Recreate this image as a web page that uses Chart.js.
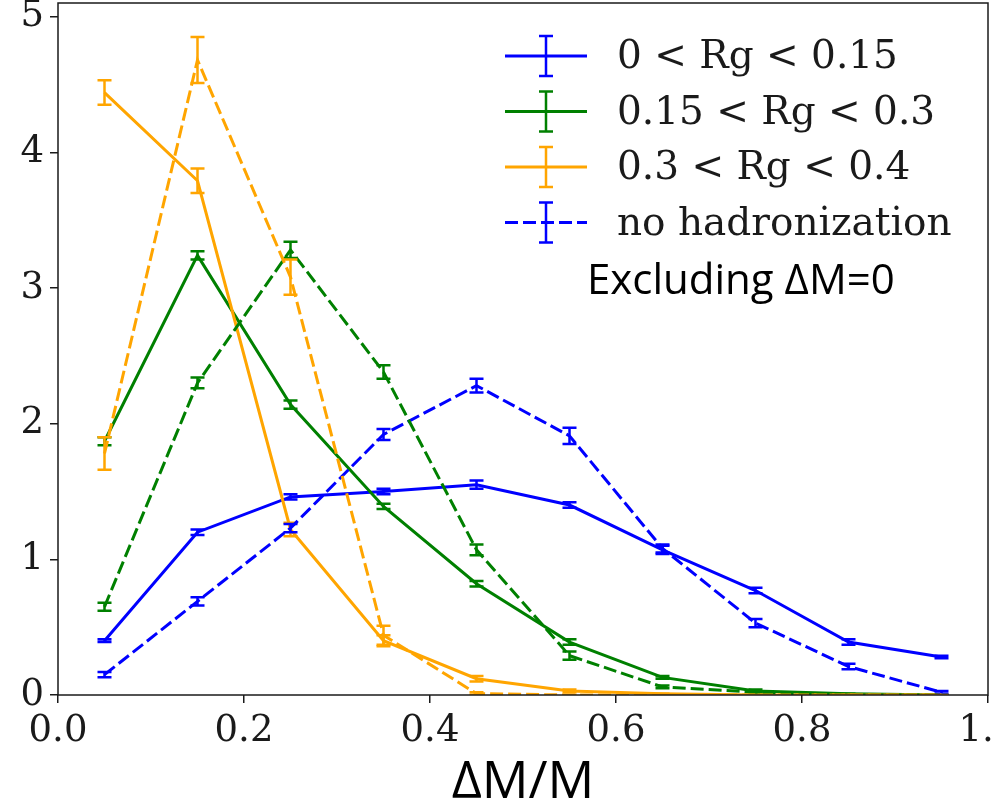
<!DOCTYPE html>
<html>
<head>
<meta charset="utf-8">
<script src="https://cdn.jsdelivr.net/npm/chart.js@4.4.1/dist/chart.umd.min.js"></script>
<style>
  html, body { margin: 0; padding: 0; background: #fff; }
</style>
</head>
<body>
<canvas id="massChart" width="993" height="809"></canvas>
<script>
// bin centres of dM/M
const binCenters = [0.05, 0.15, 0.25, 0.35, 0.45, 0.55, 0.65, 0.75, 0.85, 0.95];
const xTicks = [0.0, 0.2, 0.4, 0.6, 0.8, 1.0];
const yTicks = [0, 1, 2, 3, 4, 5];

// 0 < Rg < 0.15
const lowRg = [0.40, 1.20, 1.46, 1.50, 1.55, 1.40, 1.07, 0.77, 0.39, 0.28];
const lowRgErr = [0.01, 0.02, 0.02, 0.02, 0.03, 0.02, 0.03, 0.02, 0.02, 0.01];
const lowRgNoHad = [0.15, 0.69, 1.23, 1.92, 2.28, 1.91, 1.08, 0.53, 0.21, 0.02];
const lowRgNoHadErr = [0.02, 0.03, 0.03, 0.04, 0.05, 0.06, 0.03, 0.03, 0.02, 0.01];

// 0.15 < Rg < 0.3
const midRg = [1.87, 3.24, 2.14, 1.39, 0.82, 0.39, 0.13, 0.03, 0.01, 0.0];
const midRgErr = [0.03, 0.03, 0.03, 0.02, 0.02, 0.02, 0.01, 0.01, 0.0, 0.0];
const midRgNoHad = [0.65, 2.30, 3.28, 2.38, 1.07, 0.29, 0.06, 0.02, 0.0, 0.0];
const midRgNoHadErr = [0.03, 0.04, 0.06, 0.05, 0.04, 0.03, 0.01, 0.0, 0.0, 0.0];

// 0.3 < Rg < 0.4
const highRg = [4.44, 3.79, 1.22, 0.40, 0.12, 0.03, 0.01, 0.0, 0.0, 0.0];
const highRgErr = [0.09, 0.09, 0.05, 0.04, 0.02, 0.01, 0.0, 0.0, 0.0, 0.0];
const highRgNoHad = [1.78, 4.68, 3.08, 0.44, 0.01, 0.0, 0.0, 0.0, 0.0, 0.0];
const highRgNoHadErr = [0.12, 0.17, 0.13, 0.07, 0.01, 0.0, 0.0, 0.0, 0.0, 0.0];

const note = 'Excluding \u0394M=0';

const BLUE = '#0000ff';
const GREEN = '#008000';
const ORANGE = '#ffa500';
const DASH = [13, 5];

function toPoints(values) {
    return values.map((v, i) => ({x: binCenters[i], y: v}));
}

function series(label, values, errors, color, dashed, inLegend, order) {
    return {
        label: label,
        data: toPoints(values),
        errors: errors,
        borderColor: color,
        backgroundColor: color,
        borderWidth: 3,
        borderDash: dashed ? DASH : [],
        pointRadius: 0,
        pointHoverRadius: 0,
        tension: 0,
        fill: false,
        inLegend: inLegend,
        order: order
    };
}

// error bars with caps, drawn right after each line
const errorBars = {
    id: 'errorBars',
    afterDatasetDraw(chart, args) {
        const ds = chart.data.datasets[args.index];
        if (!ds.errors) return;
        const ctx = chart.ctx;
        const yScale = chart.scales.y;
        const area = chart.chartArea;
        ctx.save();
        ctx.beginPath();
        ctx.rect(area.left, area.top, area.right - area.left, area.bottom - area.top);
        ctx.clip();
        ctx.strokeStyle = ds.borderColor;
        ctx.lineWidth = 2.5;
        ctx.setLineDash([]);
        args.meta.data.forEach((pt, i) => {
            const v = ds.data[i].y;
            const e = ds.errors[i];
            const top = yScale.getPixelForValue(v + e);
            const bot = yScale.getPixelForValue(v - e);
            ctx.beginPath();
            ctx.moveTo(pt.x, top); ctx.lineTo(pt.x, bot);
            ctx.moveTo(pt.x - 7, top); ctx.lineTo(pt.x + 7, top);
            ctx.moveTo(pt.x - 7, bot); ctx.lineTo(pt.x + 7, bot);
            ctx.stroke();
        });
        ctx.restore();
    }
};

// matplotlib style box + legend + note
const frameAndLegend = {
    id: 'frameAndLegend',
    afterDraw(chart) {
        const ctx = chart.ctx;
        const area = chart.chartArea;
        ctx.save();
        ctx.strokeStyle = '#1a1a1a';
        ctx.lineWidth = 1.5;
        ctx.setLineDash([]);
        ctx.strokeRect(area.left, area.top, area.right - area.left, area.bottom - area.top);

        const entries = chart.data.datasets.filter(d => d.inLegend);
        const lineX = area.right - 483;
        const lineLen = 82;
        const textX = area.right - 371;
        let rowY = area.top + 53;
        ctx.font = '39px "DejaVu Serif"';
        ctx.textBaseline = 'middle';
        ctx.textAlign = 'left';
        entries.forEach(d => {
            const mid = lineX + lineLen / 2;
            ctx.strokeStyle = d.borderColor;
            ctx.lineWidth = 3;
            ctx.setLineDash(d.borderDash);
            ctx.beginPath();
            ctx.moveTo(lineX, rowY); ctx.lineTo(lineX + lineLen, rowY);
            ctx.stroke();
            ctx.setLineDash([]);
            ctx.lineWidth = 2.5;
            ctx.beginPath();
            ctx.moveTo(mid, rowY - 20); ctx.lineTo(mid, rowY + 20);
            ctx.moveTo(mid - 7, rowY - 20); ctx.lineTo(mid + 7, rowY - 20);
            ctx.moveTo(mid - 7, rowY + 20); ctx.lineTo(mid + 7, rowY + 20);
            ctx.stroke();
            ctx.fillStyle = '#1a1a1a';
            ctx.fillText(d.label, textX, rowY + 2);
            rowY += 55.5;
        });

        ctx.font = '42px "Open Sans"';
        ctx.fillStyle = '#000';
        ctx.fillText(note, area.right - 401, area.top + 279);
        ctx.restore();
    }
};

document.addEventListener('DOMContentLoaded', function() {
    const datasets = [
        series('0 < Rg < 0.15', lowRg, lowRgErr, BLUE, false, true, 6),
        series('0.15 < Rg < 0.3', midRg, midRgErr, GREEN, false, true, 5),
        series('0.3 < Rg < 0.4', highRg, highRgErr, ORANGE, false, true, 4),
        series('no hadronization', lowRgNoHad, lowRgNoHadErr, BLUE, true, true, 3),
        series('no hadronization', midRgNoHad, midRgNoHadErr, GREEN, true, false, 2),
        series('no hadronization', highRgNoHad, highRgNoHadErr, ORANGE, true, false, 1)
    ];

    const config = {
        type: 'line',
        data: {datasets: datasets},
        options: {
            responsive: false,
            animation: false,
            events: [],
            layout: {padding: {top: 3, right: 5, left: 0, bottom: 0}},
            plugins: {
                legend: {display: false},
                tooltip: {enabled: false}
            },
            scales: {
                x: {
                    type: 'linear',
                    min: 0,
                    max: 1.0,
                    afterFit: s => {
                        s.height = 114;
                        s.paddingLeft = 0;
                        s.paddingRight = 0;
                    },
                    afterBuildTicks: s => { s.ticks = xTicks.map(v => ({value: v})); },
                    grid: {display: true, drawOnChartArea: false, tickLength: 8, color: '#1a1a1a', lineWidth: 1.5},
                    border: {display: false},
                    ticks: {
                        color: '#1a1a1a',
                        padding: 6,
                        maxRotation: 0,
                        font: {family: 'DejaVu Serif', size: 37},
                        callback: v => v.toFixed(1)
                    },
                    title: {
                        display: true,
                        text: '\u0394M/M',
                        color: '#000',
                        padding: {top: 0, bottom: 0},
                        font: {family: 'Open Sans', size: 52, lineHeight: 1}
                    }
                },
                y: {
                    type: 'linear',
                    min: 0,
                    max: 5.1,
                    afterFit: s => {
                        s.width = 58;
                        s.paddingTop = 0;
                        s.paddingBottom = 0;
                    },
                    afterBuildTicks: s => { s.ticks = yTicks.map(v => ({value: v})); },
                    grid: {display: true, drawOnChartArea: false, tickLength: 8, color: '#1a1a1a', lineWidth: 1.5},
                    border: {display: false},
                    ticks: {
                        color: '#1a1a1a',
                        padding: 6,
                        font: {family: 'DejaVu Serif', size: 37},
                        callback: v => String(v)
                    }
                }
            }
        },
        plugins: [errorBars, frameAndLegend]
    };

    new Chart(document.getElementById('massChart').getContext('2d'), config);
});
</script>
</body>
</html>
